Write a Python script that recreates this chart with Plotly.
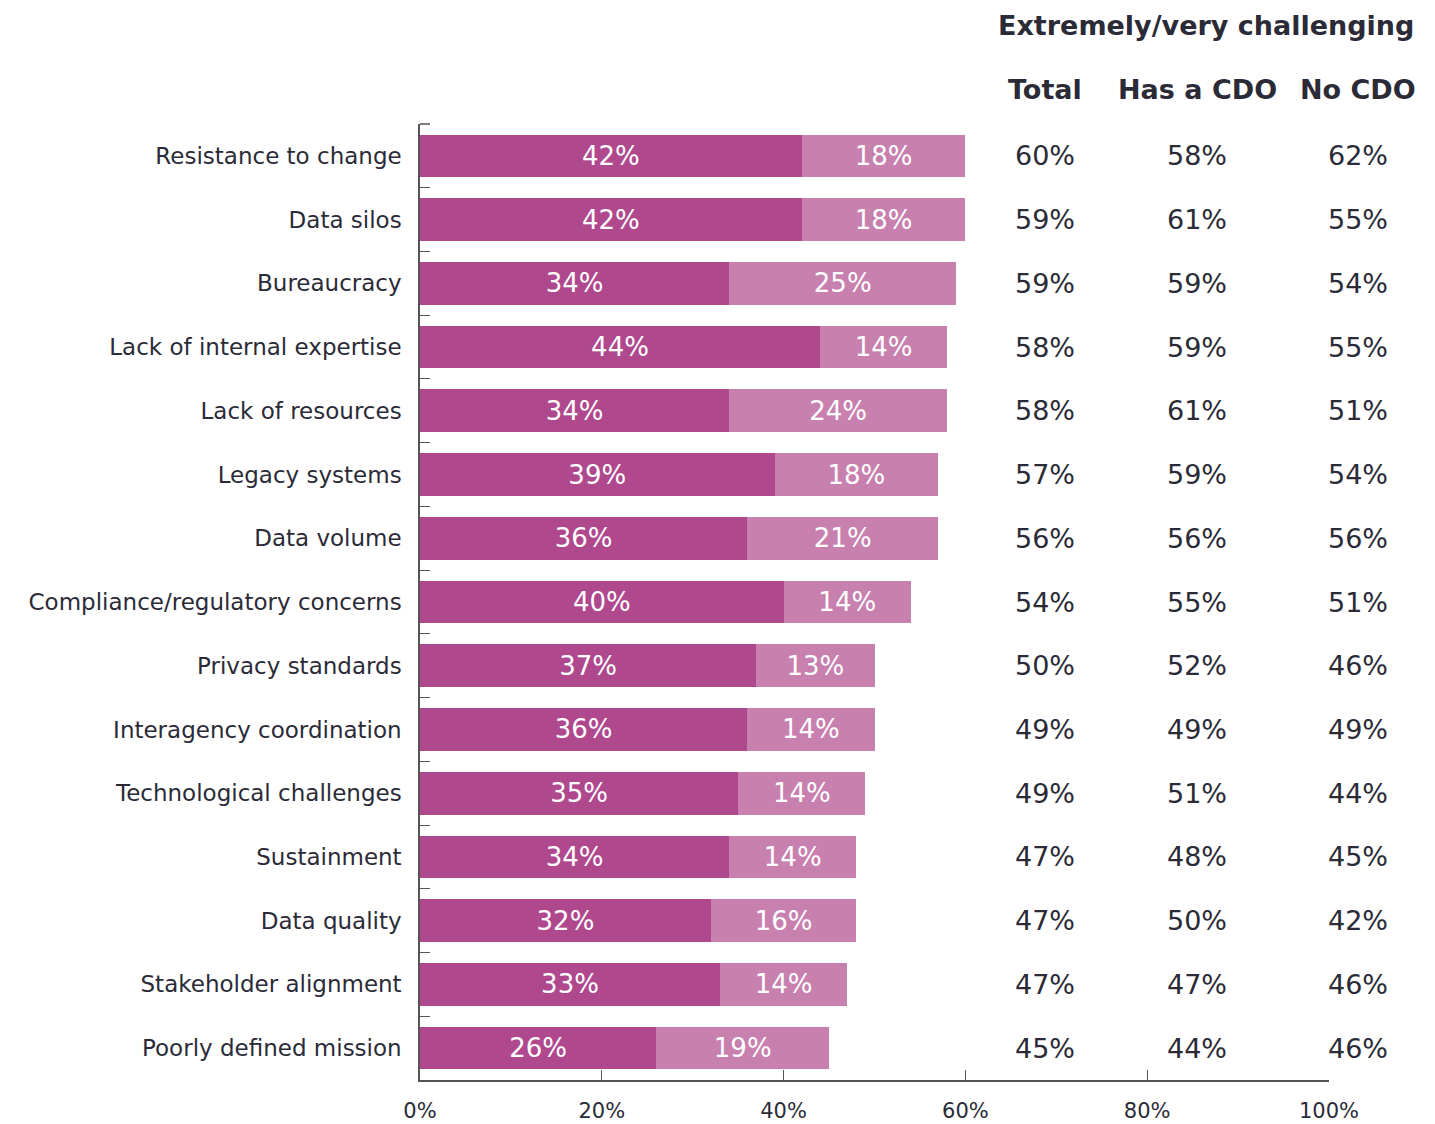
import plotly.graph_objects as go

# Challenges, ordered as listed (top to bottom)
challenges = [
    "Resistance to change", "Data silos", "Bureaucracy", "Lack of internal expertise",
    "Lack of resources", "Legacy systems", "Data volume", "Compliance/regulatory concerns",
    "Privacy standards", "Interagency coordination", "Technological challenges",
    "Sustainment", "Data quality", "Stakeholder alignment", "Poorly defined mission",
]
extremely = [42, 42, 34, 44, 34, 39, 36, 40, 37, 36, 35, 34, 32, 33, 26]
very = [18, 18, 25, 14, 24, 18, 21, 14, 13, 14, 14, 14, 16, 14, 19]

total = [60, 59, 59, 58, 58, 57, 56, 54, 50, 49, 49, 47, 47, 47, 45]
has_cdo = [58, 61, 59, 59, 61, 59, 56, 55, 52, 49, 51, 48, 50, 47, 44]
no_cdo = [62, 55, 54, 55, 51, 54, 56, 51, 46, 49, 44, 45, 42, 46, 46]

column_headers = ["Total", "Has a CDO", "No CDO"]
x_ticks = [0, 20, 40, 60, 80, 100]

DARK = "#B0488E"
LIGHT = "#C880AF"
INK = "#2B2B38"
AXIS = "#555555"
FONT = "DejaVu Sans"

W, H = 1435, 1124
ML, MR, MT, MB = 420, 106, 124, 44
pw, ph = W - ML - MR, H - MT - MB


def px_x(x):
    return (x - ML) / pw


def px_y(y):
    return 1 + (MT - y) / ph


fig = go.Figure()
for vals, color in [(extremely, DARK), (very, LIGHT)]:
    fig.add_trace(go.Bar(
        y=challenges, x=vals, orientation="h",
        marker=dict(color=color, line=dict(width=0)),
        text=[f"{v}%" for v in vals], textposition="inside",
        insidetextanchor="middle",
        textfont=dict(family=FONT, size=26, color="white"),
        showlegend=False, hoverinfo="skip",
    ))

# Right-hand summary columns
col_px = [1045, 1197, 1358]
for cx, col in zip(col_px, [total, has_cdo, no_cdo]):
    for cat, v in zip(challenges, col):
        fig.add_annotation(x=px_x(cx), y=cat, xref="paper", yref="y", text=f"{v}%",
                           showarrow=False, xanchor="center",
                           font=dict(family=FONT, size=27, color=INK))

for cx, h in zip(col_px, column_headers):
    fig.add_annotation(x=px_x(cx), y=px_y(90), xref="paper", yref="paper",
                       yanchor="middle", text=f"<b>{h}</b>", showarrow=False,
                       xanchor="center", font=dict(family=FONT, size=27, color=INK))
fig.add_annotation(x=px_x(1416), y=px_y(25), xref="paper", yref="paper",
                   xanchor="right", yanchor="middle",
                   text="<b>Extremely/very challenging</b>", showarrow=False,
                   font=dict(family=FONT, size=27, color=INK))

# Tick mark closing the top of the category axis
fig.add_shape(type="line", xref="paper", yref="paper",
              x0=0, x1=10 / pw, y0=1, y1=1, line=dict(color=AXIS, width=1.5))

fig.update_layout(
    barmode="stack", bargap=0.33,
    width=W, height=H,
    margin=dict(l=ML, r=MR, t=MT, b=MB, autoexpand=False),
    plot_bgcolor="white", paper_bgcolor="white",
    font=dict(family=FONT, color=INK),
    xaxis=dict(range=[0, 100], tickvals=x_ticks, ticktext=[f"{t}%" for t in x_ticks],
               showgrid=False, zeroline=False, showline=True, linecolor=AXIS,
               linewidth=1.5, ticks="inside", ticklen=10, tickcolor=AXIS,
               automargin=False,
               tickfont=dict(family=FONT, size=21, color=INK), ticklabelstandoff=11),
    yaxis=dict(autorange="reversed", showgrid=False, zeroline=False, showline=True,
               linecolor=AXIS, linewidth=1.5, ticks="inside", ticklen=10,
               tickcolor=AXIS, tickson="boundaries", automargin=False,
               tickfont=dict(family=FONT, size=23, color=INK), ticklabelstandoff=12),
)

fig.write_html("out.html")
